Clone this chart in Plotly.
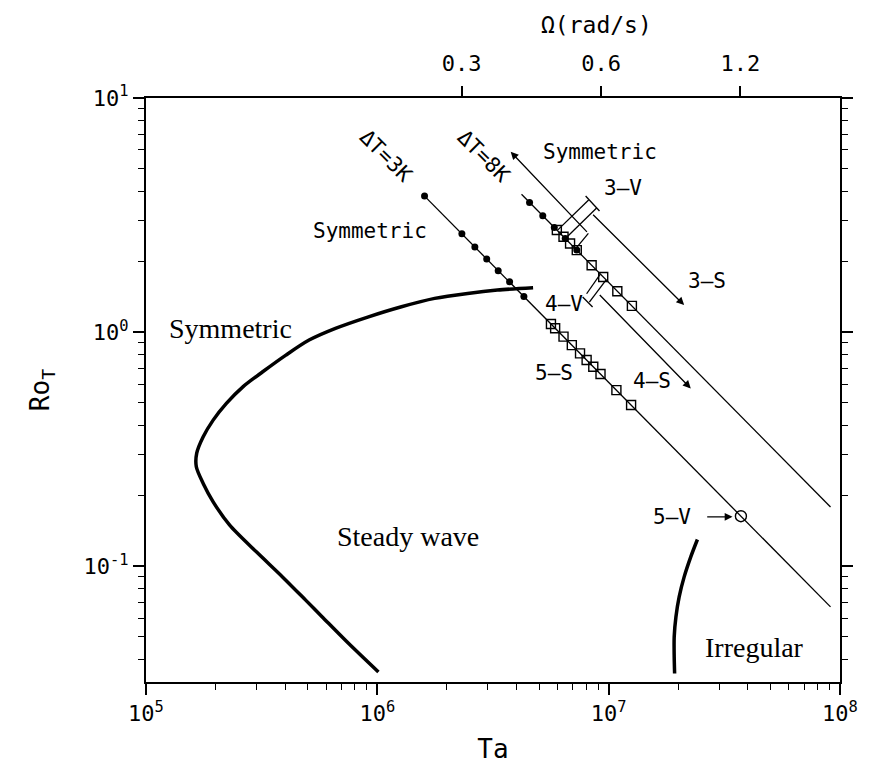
import math
import plotly.graph_objects as go

# ---------------- data ----------------
# Boundary between the symmetric regime and steady waves (Ta, Ro_T)
bound_ta = [1.011e6, 7.52e5, 5.78e5, 4.90e5, 3.89e5, 3.00e5, 2.30e5, 1.951e5, 1.767e5,
            1.650e5, 1.656e5, 1.767e5, 1.951e5, 2.226e5, 2.623e5, 3.195e5, 4.025e5,
            5.07e5, 6.59e5, 9.16e5, 1.272e6, 1.769e6, 2.457e6, 3.304e6, 4.713e6]
bound_ro = [0.0353, 0.0467, 0.0607, 0.0716, 0.0900, 0.1151, 0.1497, 0.1883, 0.2256,
            0.2658, 0.3031, 0.3569, 0.4206, 0.4958, 0.5837, 0.6767, 0.7973,
            0.9243, 1.037, 1.162, 1.283, 1.393, 1.463, 1.512, 1.547]

# Onset of irregular flow
irr_ta = [2.419e7, 2.264e7, 2.120e7, 2.017e7, 1.953e7, 1.920e7, 1.920e7, 1.928e7]
irr_ro = [0.1300, 0.1096, 0.0900, 0.0739, 0.0607, 0.0499, 0.0410, 0.0348]

# Runs at constant temperature difference
dt3_line_ta = [1.60e6, 9.1e7]
dt3_line_ro = [3.81, 0.067]
dt8_line_ta = [4.2e6, 9.1e7]
dt8_line_ro = [3.88, 0.179]

# dT = 3 K measurements
dt3_sym_ta = [1.60e6, 2.32e6, 2.64e6, 2.97e6, 3.33e6, 3.73e6, 4.30e6]
dt3_sym_ro = [3.81, 2.63, 2.31, 2.05, 1.83, 1.64, 1.42]
dt3_wave_ta = [5.63e6, 5.87e6, 6.38e6, 6.93e6, 7.52e6, 8.03e6, 8.58e6, 9.22e6, 1.08e7, 1.25e7]
dt3_wave_ro = [1.083, 1.039, 0.956, 0.880, 0.811, 0.760, 0.711, 0.662, 0.565, 0.488]
dt3_vac_ta = [3.73e7]
dt3_vac_ro = [0.1635]

# dT = 8 K measurements
dt8_sym_ta = [4.55e6, 5.19e6, 5.82e6, 6.49e6, 7.28e6]
dt8_sym_ro = [3.58, 3.14, 2.80, 2.51, 2.24]
dt8_wave_ta = [5.97e6, 6.38e6, 6.81e6, 7.28e6, 8.44e6, 9.47e6, 1.09e7, 1.26e7]
dt8_wave_ro = [2.73, 2.555, 2.39, 2.24, 1.93, 1.72, 1.495, 1.294]

# Rotation-rate axis: Ta = TA_PER_OMEGA2 * Omega^2
omega_ticks = [0.3, 0.6, 1.2]
TA_PER_OMEGA2 = 2.574e7

# Transition brackets (Ta, Ro_T pairs of each segment)
sym_hook_ta, sym_hook_ro = [8.17e6, 7.28e6], [2.641, 2.30]
band3_l_ta, band3_l_ro = [6.0e6, 8.19e6], [2.72, 3.665]
band3_r_ta, band3_r_ro = [6.5e6, 8.87e6], [2.51, 3.388]
band3_c_ta, band3_c_ro = [7.95e6, 9.13e6], [3.813, 3.289]
band4_l_ta, band4_l_ro = [8.03e6, 9.2e6], [1.458, 1.77]
band4_r_ta, band4_r_ro = [8.25e6, 9.75e6], [1.344, 1.67]
band4_c_ta, band4_c_ro = [7.72e6, 8.52e6], [1.411, 1.279]

# Arrows: tail (Ta, Ro) -> head (Ta, Ro)
arrows = [
    ((8.17e6, 2.641), (3.77e6, 5.895)),
    ((8.44e6, 3.216), (2.12e7, 1.304)),
    ((9.02e6, 1.461), (2.264e7, 0.5745)),
    ((2.627e7, 0.1624), (3.43e7, 0.1624)),
]

# Small labels (text, Ta, Ro, angle)
small_labels = [
    ("\u0394T=3K", 1.089e6, 5.65, 45),
    ("\u0394T=8K", 2.877e6, 5.65, 45),
    ("Symmetric", 9.30e5, 2.70, 0),
    ("Symmetric", 9.13e6, 5.88, 0),
    ("3\u2013V", 1.157e7, 4.125, 0),
    ("3\u2013S", 2.67e7, 1.652, 0),
    ("4\u2013V", 6.38e6, 1.317, 0),
    ("4\u2013S", 1.54e7, 0.6205, 0),
    ("5\u2013S", 5.83e6, 0.671, 0),
    ("5\u2013V", 1.877e7, 0.1624, 0),
]
# Regime names (text, Ta, Ro)
regime_labels = [
    ("Symmetric", 2.32e5, 1.04),
    ("Steady wave", 1.359e6, 0.134),
    ("Irregular", 4.26e7, 0.0448),
]

Y_MIN, Y_MAX = 0.032, 10.0

# ---------------- figure ----------------
MONO = "DejaVu Sans Mono"
SERIF = "Liberation Serif"
fig = go.Figure()


def line(xs, ys, width=1.3, shape="linear"):
    fig.add_trace(go.Scatter(x=xs, y=ys, mode="lines",
                             line=dict(color="black", width=width, shape=shape,
                                       smoothing=0.8),
                             hoverinfo="skip", showlegend=False))


line(bound_ta, bound_ro, 3.5, "spline")
line(irr_ta, irr_ro, 3.5, "spline")
line(dt3_line_ta, dt3_line_ro)
line(dt8_line_ta, dt8_line_ro)
for xs, ys in [(sym_hook_ta, sym_hook_ro), (band3_l_ta, band3_l_ro), (band3_r_ta, band3_r_ro),
               (band3_c_ta, band3_c_ro), (band4_l_ta, band4_l_ro), (band4_r_ta, band4_r_ro),
               (band4_c_ta, band4_c_ro)]:
    line(xs, ys)

for xs, ys in [(dt3_wave_ta, dt3_wave_ro), (dt8_wave_ta, dt8_wave_ro)]:
    fig.add_trace(go.Scatter(x=xs, y=ys, mode="markers",
                             marker=dict(symbol="square-open", size=9, color="black",
                                         line=dict(width=1.4)),
                             hoverinfo="skip", showlegend=False))
for xs, ys in [(dt3_sym_ta, dt3_sym_ro), (dt8_sym_ta, dt8_sym_ro)]:
    fig.add_trace(go.Scatter(x=xs, y=ys, mode="markers",
                             marker=dict(symbol="circle", size=7, color="black"),
                             hoverinfo="skip", showlegend=False))
fig.add_trace(go.Scatter(x=dt3_vac_ta, y=dt3_vac_ro, mode="markers",
                         marker=dict(symbol="circle-open", size=11, color="black",
                                     line=dict(width=1.4)),
                         hoverinfo="skip", showlegend=False))

# carrier trace for the rotation-rate axis
fig.add_trace(go.Scatter(x=[1e5, 1e8], y=[1, 1], xaxis="x2", mode="lines",
                         line=dict(color="rgba(0,0,0,0)"), hoverinfo="skip",
                         showlegend=False))

L = math.log10
ann = []
for (t_ta, t_ro), (h_ta, h_ro) in arrows:
    ann.append(dict(x=L(h_ta), y=L(h_ro), ax=L(t_ta), ay=L(t_ro), xref="x", yref="y",
                    axref="x", ayref="y", text="", showarrow=True, arrowhead=2,
                    arrowsize=1.2, arrowwidth=1.3, arrowcolor="black", standoff=0))
for txt, ta, ro, ang in small_labels:
    ann.append(dict(x=L(ta), y=L(ro), xref="x", yref="y", text=txt, showarrow=False,
                    textangle=ang, font=dict(family=MONO, size=21, color="black")))
for txt, ta, ro in regime_labels:
    ann.append(dict(x=L(ta), y=L(ro), xref="x", yref="y", text=txt, showarrow=False,
                    font=dict(family=SERIF, size=28, color="black")))
ann.append(dict(x=0.649, y=1.125, xref="paper", yref="paper", text="\u03a9(rad/s)",
                xanchor="center", yanchor="middle", showarrow=False,
                font=dict(family=MONO, size=23, color="black")))

dec_x = [1e5, 1e6, 1e7, 1e8]
minor_x = [m * 10 ** e for e in range(5, 8) for m in range(2, 10)]
dec_y = [0.1, 1, 10]
minor_y = [m * 10 ** e for e in range(-2, 1) for m in range(2, 10) if Y_MIN < m * 10 ** e < Y_MAX]

axis_common = dict(type="log", showgrid=False, zeroline=False, showline=True,
                   linecolor="black", linewidth=2, ticks="outside", ticklen=11,
                   tickwidth=1.5, tickcolor="black",
                   tickfont=dict(family=MONO, size=22, color="black"))

fig.update_layout(
    width=870, height=772,
    margin=dict(l=146, r=24, t=98, b=90),
    paper_bgcolor="white", plot_bgcolor="white",
    showlegend=False,
    xaxis=dict(axis_common, range=[5, 8], mirror=True,
               tickmode="array", tickvals=dec_x,
               ticktext=["10<sup>%d</sup>" % e for e in range(5, 9)],
               minor=dict(tickmode="array", tickvals=minor_x, ticks="outside",
                          ticklen=6, tickwidth=1.2, tickcolor="black"),
               title=dict(text="Ta", font=dict(family=MONO, size=26, color="black"),
                          standoff=14)),
    xaxis2=dict(axis_common, range=[5, 8], overlaying="x", side="top", showline=False,
                tickmode="array", ticklabelstandoff=6,
                tickvals=[TA_PER_OMEGA2 * w ** 2 for w in omega_ticks],
                ticktext=["%.1f" % w for w in omega_ticks]),
    yaxis=dict(axis_common, range=[L(Y_MIN), L(Y_MAX)], mirror="ticks",
               tickmode="array", tickvals=dec_y,
               ticktext=["10<sup>%d</sup>" % e for e in (-1, 0, 1)],
               minor=dict(tickmode="array", tickvals=minor_y, ticks="outside",
                          ticklen=6, tickwidth=1.2, tickcolor="black"),
               title=dict(text="Ro<sub>T</sub>", font=dict(family=MONO, size=26, color="black"),
                          standoff=26)),
    annotations=ann,
)

fig.write_html("out.html")
